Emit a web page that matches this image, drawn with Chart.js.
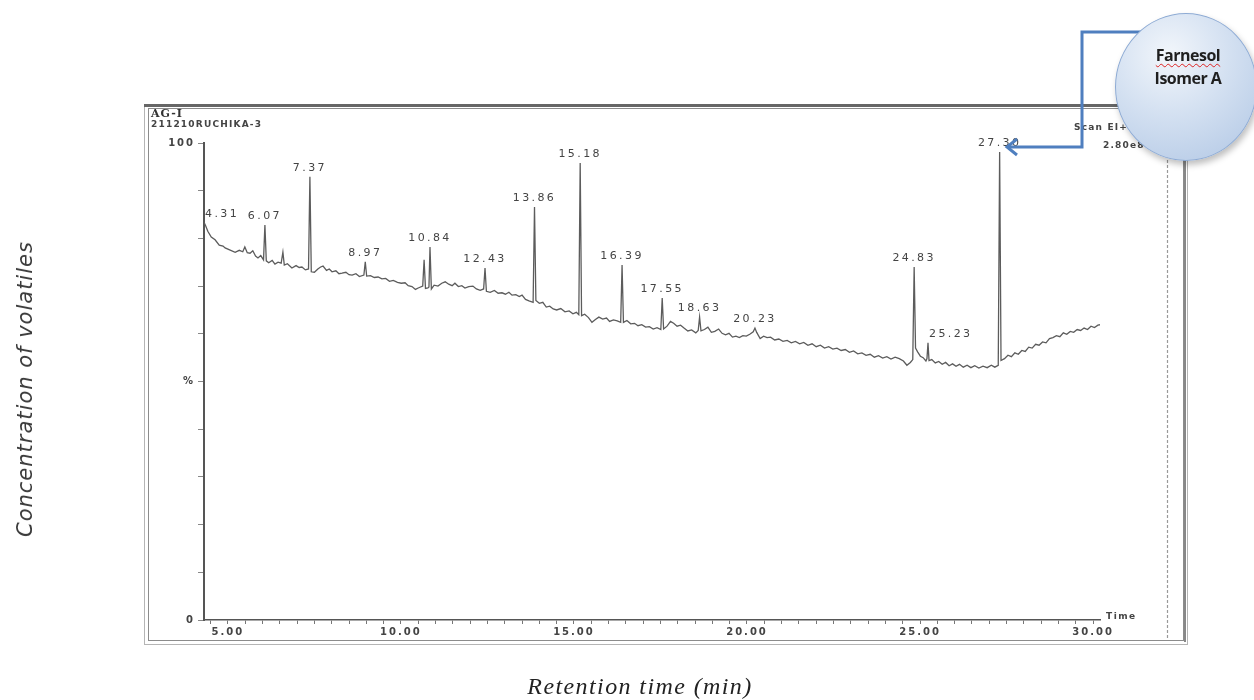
<!DOCTYPE html>
<html>
<head>
<meta charset="utf-8">
<script src="https://cdn.jsdelivr.net/npm/chart.js@4.4.0/dist/chart.umd.min.js"></script>
<style>
  html, body { margin: 0; padding: 0; background: #fff; }
  #wrap { position: relative; width: 1254px; height: 700px; overflow: hidden; }
  #gc { position: absolute; left: 0; top: 0; }
  .ytitle {
    position: absolute; left: 25px; top: 389px;
    transform: translate(-50%, -50%) rotate(-90deg);
    font-family: 'DejaVu Sans', sans-serif; font-style: oblique; font-size: 21px;
    letter-spacing: 1px; color: #3a3a3a; white-space: nowrap;
  }
  .xtitle {
    position: absolute; left: 640px; top: 686px;
    transform: translate(-50%, -50%);
    font-family: 'Liberation Serif', serif; font-style: italic; font-size: 24px;
    letter-spacing: 1.4px; color: #222; white-space: nowrap;
  }
  svg.conn { position: absolute; left: 0; top: 0; }
  .bubble {
    position: absolute; left: 1115px; top: 13px; width: 140px; height: 146px;
    border-radius: 50%;
    background: radial-gradient(circle at 38% 28%, #f2f6fb 0%, #d3e0f1 45%, #b0c6e4 100%);
    border: 1.5px solid #8eabd4;
    box-shadow: 2px 4px 6px rgba(0,0,0,0.25);
  }
  .bubble-text {
    position: absolute; left: 1188px; top: 67px; transform: translate(-50%, -50%);
    font-family: 'Open Sans', sans-serif; font-weight: bold; font-size: 16px;
    line-height: 23px; letter-spacing: -0.5px; color: #1f1f1f; text-align: center;
    white-space: nowrap;
  }
  .squiggle { text-decoration: underline wavy #d22; text-underline-offset: 2px; text-decoration-thickness: 1px; }
</style>
</head>
<body>
<div id="wrap">
  <canvas id="gc" width="1254" height="700"></canvas>
  <div class="ytitle">Concentration of volatiles</div>
  <div class="xtitle">Retention time (min)</div>
  <svg class="conn" width="1254" height="700">
    <polyline points="1150,32 1082,32 1082,147 1008,147" fill="none" stroke="#4f7fbf" stroke-width="3"/>
    <polyline points="1017,139 1007,147 1017,155" fill="none" stroke="#4f7fbf" stroke-width="3"/>
  </svg>
  <div class="bubble"></div>
  <div class="bubble-text"><span class="squiggle">Farnesol</span><br>Isomer A</div>
</div>
<script>
// retention time (min) and relative abundance (%)
const retentionTime = [
  4.31, 4.36, 4.42, 4.52, 4.63, 4.75, 4.86, 4.92, 5.05, 5.21, 5.33, 5.43, 5.49, 5.56, 5.64, 5.72, 5.80, 5.87, 5.95, 6.03,
  6.07, 6.11, 6.18, 6.28, 6.36, 6.45, 6.54, 6.59, 6.63, 6.72, 6.85, 6.97, 7.06, 7.14, 7.24, 7.33, 7.37, 7.41, 7.50, 7.60,
  7.68, 7.75, 7.85, 7.93, 8.01, 8.12, 8.21, 8.30, 8.41, 8.50, 8.59, 8.70, 8.80, 8.93, 8.97, 9.01, 9.12, 9.23, 9.34, 9.45,
  9.56, 9.67, 9.78, 9.90, 10.01, 10.12, 10.21, 10.32, 10.42, 10.50, 10.63, 10.67, 10.71, 10.78, 10.81, 10.84, 10.88, 10.96, 11.07, 11.18,
  11.28, 11.38, 11.48, 11.56, 11.66, 11.76, 11.85, 11.96, 12.08, 12.18, 12.29, 12.39, 12.43, 12.47, 12.58, 12.70, 12.81, 12.92, 13.02, 13.12,
  13.21, 13.32, 13.42, 13.50, 13.60, 13.70, 13.82, 13.86, 13.90, 14.00, 14.10, 14.20, 14.30, 14.40, 14.50, 14.62, 14.74, 14.86, 14.97, 15.07,
  15.14, 15.18, 15.22, 15.31, 15.42, 15.52, 15.62, 15.72, 15.83, 15.94, 16.03, 16.14, 16.25, 16.35, 16.39, 16.43, 16.53, 16.64, 16.75, 16.85,
  16.96, 17.07, 17.18, 17.29, 17.40, 17.51, 17.55, 17.59, 17.69, 17.79, 17.88, 17.98, 18.08, 18.18, 18.29, 18.40, 18.52, 18.59, 18.63, 18.67,
  18.77, 18.87, 18.97, 19.07, 19.18, 19.28, 19.38, 19.48, 19.58, 19.68, 19.78, 19.88, 19.98, 20.08, 20.18, 20.23, 20.28, 20.38, 20.48, 20.58,
  20.68, 20.80, 20.92, 21.04, 21.16, 21.28, 21.40, 21.52, 21.64, 21.76, 21.88, 22.00, 22.12, 22.24, 22.36, 22.48, 22.60, 22.72, 22.84, 22.96,
  23.08, 23.20, 23.32, 23.44, 23.56, 23.68, 23.80, 23.92, 24.04, 24.16, 24.28, 24.40, 24.52, 24.62, 24.72, 24.79, 24.83, 24.87, 24.93, 25.01,
  25.09, 25.17, 25.20, 25.23, 25.26, 25.34, 25.44, 25.54, 25.64, 25.74, 25.84, 25.94, 26.04, 26.14, 26.25, 26.36, 26.47, 26.58, 26.70, 26.82,
  26.94, 27.06, 27.16, 27.26, 27.30, 27.34, 27.44, 27.54, 27.64, 27.74, 27.84, 27.94, 28.04, 28.14, 28.24, 28.34, 28.44, 28.54, 28.64, 28.74,
  28.84, 28.94, 29.04, 29.14, 29.24, 29.34, 29.44, 29.54, 29.64, 29.74, 29.84, 29.94, 30.04, 30.14, 30.20
];
const abundance = [
  83.4, 82.6, 81.5, 80.3, 79.7, 78.6, 78.4, 78.0, 77.6, 77.1, 77.5, 77.2, 78.2, 77.0, 76.9, 77.4, 76.3, 75.9, 76.4, 75.5,
  82.8, 75.3, 74.9, 75.4, 74.6, 75.0, 74.8, 77.1, 74.4, 74.7, 73.8, 74.3, 73.9, 74.0, 73.4, 73.6, 92.9, 73.0, 72.9, 73.6,
  74.0, 74.2, 73.3, 73.6, 73.0, 73.2, 72.6, 72.7, 72.9, 72.4, 72.3, 72.6, 72.0, 72.3, 75.1, 72.1, 72.2, 71.8, 71.9, 71.5,
  71.6, 71.0, 71.2, 70.8, 70.6, 70.7, 70.1, 69.9, 69.3, 69.6, 70.0, 75.5, 69.5, 69.6, 69.8, 78.2, 69.4, 70.2, 70.0, 70.6,
  70.9, 70.4, 70.1, 70.6, 69.9, 70.1, 69.6, 69.9, 70.0, 69.4, 69.1, 69.4, 73.8, 68.9, 68.7, 69.1, 68.5, 68.6, 68.3, 68.7,
  68.1, 68.2, 67.8, 68.1, 67.2, 66.9, 66.6, 86.6, 67.0, 66.4, 66.6, 65.6, 65.8, 65.2, 65.0, 65.3, 64.6, 64.8, 64.2, 64.5,
  64.0, 95.8, 63.8, 64.1, 63.4, 62.4, 63.0, 63.5, 63.1, 63.3, 62.6, 62.9, 62.7, 62.4, 74.4, 62.4, 62.8, 62.1, 62.2, 61.7,
  61.9, 61.4, 61.5, 61.0, 61.3, 60.9, 67.5, 61.0, 61.6, 62.6, 62.2, 61.6, 61.8, 61.2, 60.6, 60.8, 60.2, 60.7, 63.5, 60.6,
  60.9, 61.4, 60.3, 60.5, 61.0, 60.1, 59.8, 60.1, 59.3, 59.5, 59.2, 59.6, 59.5, 59.9, 60.4, 61.2, 60.3, 59.0, 59.5, 59.2,
  59.3, 58.7, 58.9, 58.4, 58.6, 58.1, 58.4, 57.9, 58.2, 57.6, 57.9, 57.3, 57.6, 57.0, 57.3, 56.8, 57.0, 56.5, 56.7, 56.1,
  56.4, 55.8, 56.0, 55.5, 55.7, 55.1, 55.4, 54.9, 55.2, 54.7, 55.1, 54.8, 54.3, 53.4, 54.0, 54.6, 74.0, 57.0, 56.2, 55.3,
  55.0, 54.3, 54.8, 58.1, 54.4, 54.6, 53.9, 54.2, 53.6, 54.0, 53.3, 53.7, 53.2, 53.6, 53.0, 53.4, 52.9, 53.3, 52.8, 53.2,
  52.9, 53.4, 53.0, 53.4, 98.1, 54.4, 54.8, 55.5, 55.2, 56.0, 55.7, 56.5, 56.3, 57.2, 57.0, 57.8, 57.6, 58.3, 58.1, 59.0,
  59.2, 59.6, 59.4, 60.2, 59.9, 60.5, 60.3, 60.9, 60.7, 61.2, 60.9, 61.6, 61.3, 61.8, 61.9
];

// labelled peaks
const peakTimes = [4.31, 6.07, 7.37, 8.97, 10.84, 12.43, 13.86, 15.18, 16.39, 17.55, 18.63, 20.23, 24.83, 25.23, 27.30];
const peakLabels = ['4.31', '6.07', '7.37', '8.97', '10.84', '12.43', '13.86', '15.18', '16.39', '17.55', '18.63', '20.23', '24.83', '25.23', '27.30'];

// axis ticks
const xTickValues = [5, 10, 15, 20, 25, 30];
const xTickLabels = ['5.00', '10.00', '15.00', '20.00', '25.00', '30.00'];
const yTickValues = [0, 50, 100];
const yTickLabels = ['0', '%', '100'];

const INK = '#555';
const TXT = '#444';

// frame, header text and peak labels around the plot
const decor = {
  id: 'decor',
  beforeDraw(chart) {
    const c = chart.ctx;
    c.save();
    // outer screenshot frame
    c.strokeStyle = '#b5b5b5';
    c.lineWidth = 1;
    c.strokeRect(144.5, 104.5, 1043, 540);
    c.strokeStyle = '#8c8c8c';
    c.strokeRect(148.5, 108.5, 1035, 532);
    c.strokeStyle = '#666';
    c.lineWidth = 3;
    c.beginPath(); c.moveTo(144, 105.5); c.lineTo(1188, 105.5); c.stroke();
    c.strokeStyle = '#888';
    c.lineWidth = 2;
    c.beginPath(); c.moveTo(1185, 106); c.lineTo(1185, 642); c.stroke();
    // scan marker line on the right
    c.strokeStyle = '#999';
    c.lineWidth = 1.2;
    c.setLineDash([3, 2]);
    c.beginPath(); c.moveTo(1167.5, 150); c.lineTo(1167.5, 640); c.stroke();
    c.setLineDash([]);
    // header
    c.fillStyle = '#333';
    c.textBaseline = 'middle';
    c.font = 'bold 11px "DejaVu Serif"';
    c.letterSpacing = '1px';
    c.fillText('AG-I', 151, 114);
    c.fillStyle = '#444';
    c.font = 'bold 9px "DejaVu Sans"';
    c.letterSpacing = '1.2px';
    c.fillText('211210RUCHIKA-3', 151, 125);
    c.fillText('Scan EI+', 1074, 128);
    c.fillText('2.80e8', 1103, 146);
    c.restore();
    c.letterSpacing = '2px';
  },
  afterDraw(chart) {
    const c = chart.ctx;
    const xs = chart.scales.x, ys = chart.scales.y;
    c.save();
    c.letterSpacing = '2.4px';
    c.font = '11px "DejaVu Sans"';
    c.fillStyle = TXT;
    c.textBaseline = 'bottom';
    c.textAlign = 'left';
    let prevX = chart.chartArea.left;
    peakTimes.forEach((t, k) => {
      const i = retentionTime.indexOf(t);
      const px = xs.getPixelForValue(t);
      const py = ys.getPixelForValue(abundance[i]);
      const w = c.measureText(peakLabels[k]).width;
      let left = px - w / 2;
      if (left <= prevX + 2 && left + w >= prevX) left = px + 1;
      c.fillText(peakLabels[k], left, py - 3);
      prevX = px;
    });
    c.letterSpacing = '1.5px';
    c.font = 'bold 9px "DejaVu Sans"';
    c.textBaseline = 'middle';
    c.fillText('Time', chart.chartArea.right + 6, chart.chartArea.bottom - 3);
    c.restore();
    c.letterSpacing = '0px';
  }
};

const minorX = [];
for (let v = 4.5; v <= 30; v += 0.5) minorX.push(v);
const minorY = [];
for (let v = 0; v <= 100; v += 10) minorY.push(v);

const points = retentionTime.map((t, i) => ({ x: t, y: abundance[i] }));

new Chart(document.getElementById('gc'), {
  type: 'line',
  data: {
    datasets: [{
      data: points,
      borderColor: '#5c5c5c',
      borderWidth: 1.3,
      pointRadius: 0,
      tension: 0,
      fill: false
    }]
  },
  options: {
    responsive: false,
    animation: false,
    events: [],
    layout: { padding: { left: 164, right: 154, top: 143, bottom: 55 } },
    plugins: { legend: { display: false }, tooltip: { enabled: false } },
    scales: {
      x: {
        type: 'linear',
        min: 4.31,
        max: 30.2,
        afterBuildTicks: s => { s.ticks = minorX.map(v => ({ value: v })); },
        afterFit: s => { s.height = 25; },
        grid: { drawOnChartArea: false, drawTicks: true, tickLength: 4, color: '#777', lineWidth: 1 },
        border: { color: INK, width: 1.6 },
        ticks: {
          autoSkip: false, maxRotation: 0, padding: 2, color: TXT,
          font: { family: 'DejaVu Sans', size: 10, weight: 'bold' },
          callback: v => { const k = xTickValues.indexOf(v); return k >= 0 ? xTickLabels[k] : ''; }
        }
      },
      y: {
        min: 0,
        max: 100,
        afterBuildTicks: s => { s.ticks = minorY.map(v => ({ value: v })); },
        afterFit: s => { s.width = 40; },
        grid: { drawOnChartArea: false, drawTicks: true, tickLength: 6, color: '#888', lineWidth: 1 },
        border: { color: INK, width: 2, dash: [3, 1] },
        ticks: {
          autoSkip: false, padding: 3, color: TXT,
          font: { family: 'DejaVu Sans', size: 10, weight: 'bold' },
          callback: v => { const k = yTickValues.indexOf(v); return k >= 0 ? yTickLabels[k] : ''; }
        }
      }
    }
  },
  plugins: [decor]
});
</script>
</body>
</html>
